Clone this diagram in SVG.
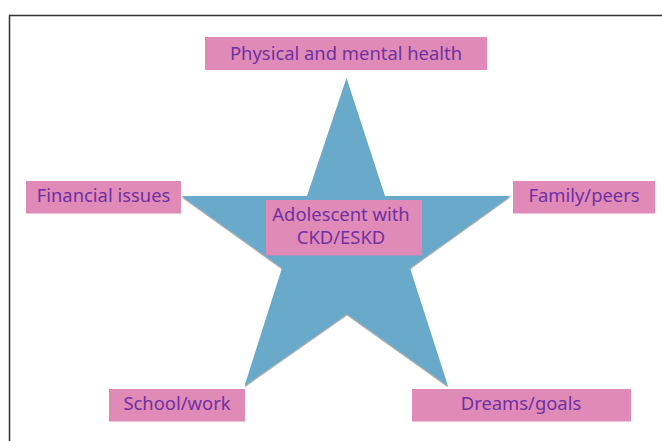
<svg xmlns="http://www.w3.org/2000/svg" width="662" height="441" viewBox="0 0 662 441">
<style>
.box{fill:#E08AB8}
.lbl{font-family:"Noto Sans","Open Sans","Liberation Sans",sans-serif;font-size:18.4px;fill:#7030A0;text-anchor:middle}
</style>
<rect x="0" y="0" width="662" height="441" fill="#ffffff"/>
<path d="M9.5 441 V15.5 H662" fill="none" stroke="#333333" stroke-width="1.5"/>
<g id="star">
<polygon points="346.5,79.5 385,197.5 510.5,197.5 410,269.5 448,387.5 347,315.5 244.5,387.5 282,269.5 181.5,197.5 307,197.5" fill="#8c8c8c" opacity="0.7"/>
<polygon points="346.5,78 385,196 510.5,196 410,268 448,386 347,314 244.5,386 282,268 181.5,196 307,196" fill="#69AACB"/>
</g>
<g id="connectors"></g>
<g id="n-health">
<rect class="box" x="205" y="37" width="282" height="33"/>
<text class="lbl" x="346" y="59.5">Physical and mental health</text>
</g>
<g id="n-financial">
<rect class="box" x="26" y="181" width="155" height="32.5"/>
<text class="lbl" x="103.5" y="202">Financial issues</text>
</g>
<g id="n-family">
<rect class="box" x="513" y="181" width="142" height="32.5"/>
<text class="lbl" x="584" y="202">Family/peers</text>
</g>
<g id="n-center">
<rect class="box" x="266" y="200" width="156" height="55.5"/>
<text class="lbl" x="341" y="221">Adolescent with</text>
<text class="lbl" x="341" y="243.5">CKD/ESKD</text>
</g>
<g id="n-school">
<rect class="box" x="109" y="389" width="136" height="32.5"/>
<text class="lbl" x="177" y="410">School/work</text>
</g>
<g id="n-dreams">
<rect class="box" x="412" y="389" width="219" height="32.5"/>
<text class="lbl" x="521" y="410">Dreams/goals</text>
</g>
</svg>
